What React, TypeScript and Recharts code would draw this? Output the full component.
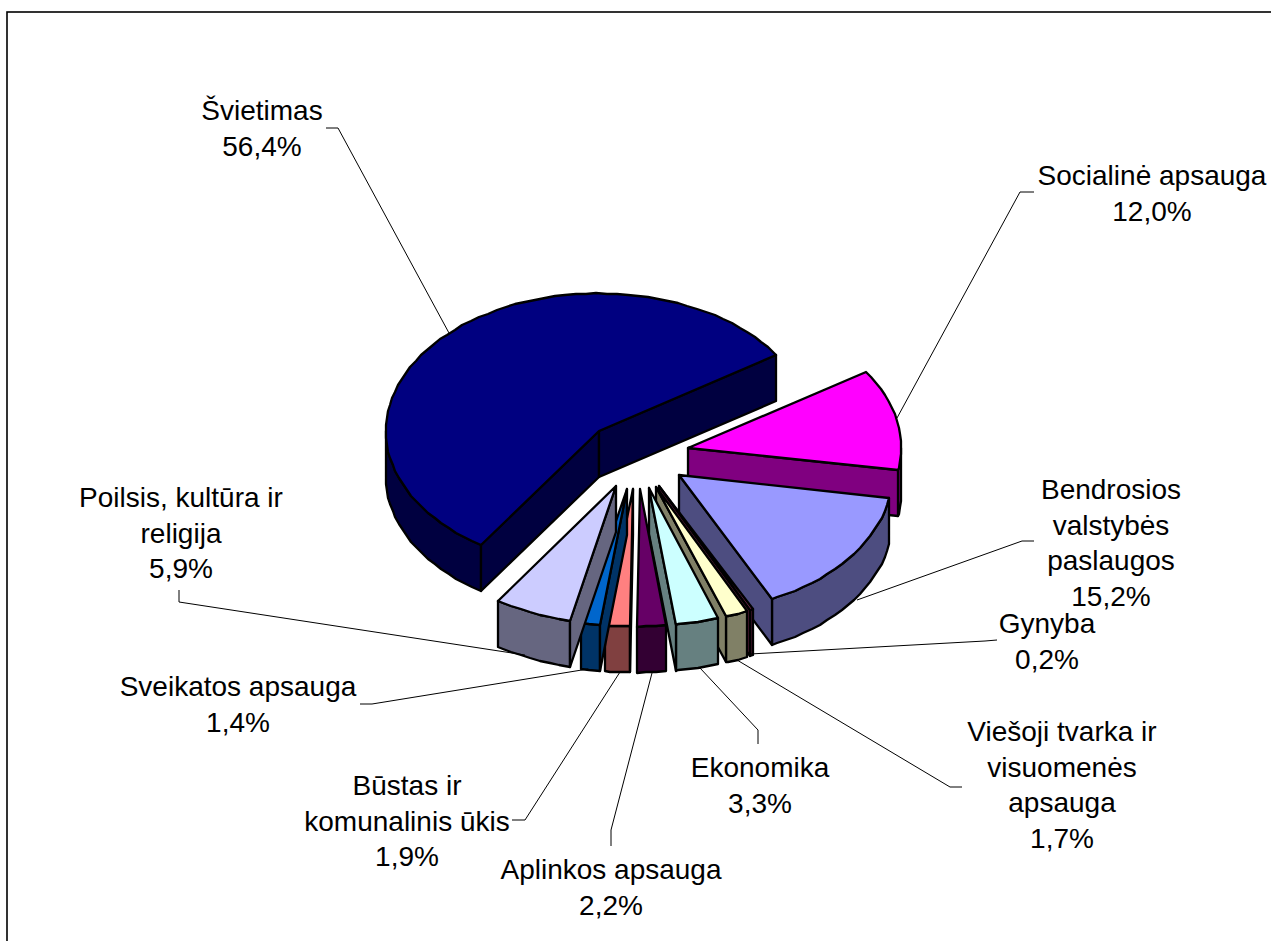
import React from 'react';
import { PieChart, Pie } from 'recharts';

const categories = ['Švietimas', 'Socialinė apsauga', 'Bendrosios valstybės paslaugos', 'Gynyba', 'Viešoji tvarka ir visuomenės apsauga', 'Ekonomika', 'Aplinkos apsauga', 'Būstas ir komunalinis ūkis', 'Sveikatos apsauga', 'Poilsis, kultūra ir religija'];
const values = [56.4, 12.0, 15.2, 0.2, 1.7, 3.3, 2.2, 1.9, 1.4, 5.9];
const valueLabels = ['56,4%', '12,0%', '15,2%', '0,2%', '1,7%', '3,3%', '2,2%', '1,9%', '1,4%', '5,9%'];
const topColors = ['#000080', '#FF00FF', '#9999FF', '#993366', '#FFFFCC', '#CCFFFF', '#660066', '#FF8080', '#0066CC', '#CCCCFF'];
const sideColors = ['#000040', '#800080', '#4D4D80', '#4D1A33', '#808066', '#668080', '#330033', '#804040', '#003366', '#666680'];

const labelLines: string[][] = [
  ['Švietimas'],
  ['Socialinė apsauga'],
  ['Bendrosios', 'valstybės', 'paslaugos'],
  ['Gynyba'],
  ['Viešoji tvarka ir', 'visuomenės', 'apsauga'],
  ['Ekonomika'],
  ['Aplinkos apsauga'],
  ['Būstas ir', 'komunalinis ūkis'],
  ['Sveikatos apsauga'],
  ['Poilsis, kultūra ir', 'religija'],
];

// label centre x, first-line centre y
const labelAnchors = [[262, 110], [1152, 175], [1111, 489], [1047, 623], [1062, 731], [760, 767], [611, 869], [407, 785], [238, 686], [181, 497]];
const leaderPaths = [
  [[326, 128], [338, 128], [449, 333]],
  [[1034, 192], [1020, 192], [897, 418]],
  [[1034, 541], [1022, 541], [857, 600]],
  [[997, 640], [985, 641], [750, 654]],
  [[962, 787], [950, 787], [737, 660]],
  [[758, 744], [758, 730], [700, 668]],
  [[611, 846], [611, 830], [652, 673]],
  [[512, 820], [525, 820], [620, 672]],
  [[360, 704], [372, 704], [588, 669]],
  [[179, 590], [179, 602], [525, 655]],
];

const data = categories.map((name, i) => ({ name, value: values[i], fill: topColors[i] }));

const SQUASH = 0.645;
const DEPTH = 46;
const EXPLODE = 53;
const LINE = 35.7;
const FONT = 28;
const rad = (d: number) => (d * Math.PI) / 180;

function SliceShape(props: any) {
  const { cx, cy, outerRadius: r, startAngle: s, endAngle: e, index } = props;
  const i = index ?? categories.indexOf(props.name);
  const mid = rad((s + e) / 2);
  const ox = cx + EXPLODE * Math.cos(mid);
  const oy = cy - EXPLODE * Math.sin(mid) * SQUASH;
  const pt = (a: number, d = 0): [number, number] => [
    Math.round(ox + r * Math.cos(rad(a))),
    Math.round(oy - r * Math.sin(rad(a)) * SQUASH + d),
  ];
  const hi = Math.max(s, e);
  const lo = Math.min(s, e);
  const sweep = (from: number, to: number) => {
    const out: number[] = [];
    for (let a = from; a > to; a -= 2.8) out.push(a);
    out.push(to);
    return out;
  };
  const fmt = (p: number[][]) => p.map((q) => q.join(',')).join(' ');
  const ap = [Math.round(ox), Math.round(oy)];
  const top = fmt([ap, ...sweep(hi, lo).map((a) => pt(a))]);
  const style = { stroke: '#000', strokeWidth: 2.3, strokeLinejoin: 'round' as const };
  const side = sideColors[i];
  const faces: React.ReactNode[] = [];
  // outer wall: only the parts of the rim facing the viewer
  [[-180, 0], [180, 360]].forEach(([a0, a1], k) => {
    const from = Math.min(hi, a1);
    const to = Math.max(lo, a0);
    if (from > to) {
      const arc = sweep(from, to);
      const wall = [...arc.map((a) => pt(a)), ...[...arc].reverse().map((a) => pt(a, DEPTH))];
      faces.push(<polygon key={`w${k}`} points={fmt(wall)} fill={side} {...style} />);
    }
  });
  if (Math.cos(rad(hi)) < 0) {
    const q = pt(hi);
    faces.push(<polygon key="s" points={fmt([ap, q, [q[0], q[1] + DEPTH], [ap[0], ap[1] + DEPTH]])} fill={side} {...style} />);
  }
  if (Math.cos(rad(lo)) > 0) {
    const q = pt(lo);
    faces.push(<polygon key="e" points={fmt([ap, q, [q[0], q[1] + DEPTH], [ap[0], ap[1] + DEPTH]])} fill={side} {...style} />);
  }
  return (
    <g>
      {faces}
      <polygon points={top} fill={topColors[i]} {...style} />
    </g>
  );
}

function renderLabel(props: any) {
  const i = props.index;
  const [x, y] = labelAnchors[i];
  const lines = [...labelLines[i], valueLabels[i]];
  return (
    <text key={i} x={x} y={y} textAnchor="middle" fontFamily="'Liberation Sans', Arial, sans-serif" fontSize={FONT} fill="#000">
      {lines.map((t, k) => (
        <tspan key={k} x={x} y={y + k * LINE + FONT * 0.35}>{t}</tspan>
      ))}
    </text>
  );
}

function renderLine(props: any) {
  const p = leaderPaths[props.index];
  return <polyline key={props.index} points={p.map((q) => q.join(',')).join(' ')} fill="none" stroke="#000" strokeWidth={1} />;
}

export default function App() {
  return (
    <div style={{ position: 'fixed', left: 0, top: 0, width: 1271, height: 941, overflow: 'hidden', background: '#fff' }}>
      <PieChart width={1271} height={941} margin={{ top: 0, right: 0, bottom: 0, left: 0 }}>
        <rect x={7} y={12} width={1400} height={1100} fill="none" stroke="#000" strokeWidth={1.6} />
        <Pie
          data={data}
          dataKey="value"
          nameKey="name"
          cx={636.5}
          cy={455}
          outerRadius={213}
          startAngle={236.3}
          endAngle={-123.7}
          stroke="none"
          isAnimationActive={false}
          shape={SliceShape}
          label={renderLabel}
          labelLine={renderLine}
        />
      </PieChart>
    </div>
  );
}
